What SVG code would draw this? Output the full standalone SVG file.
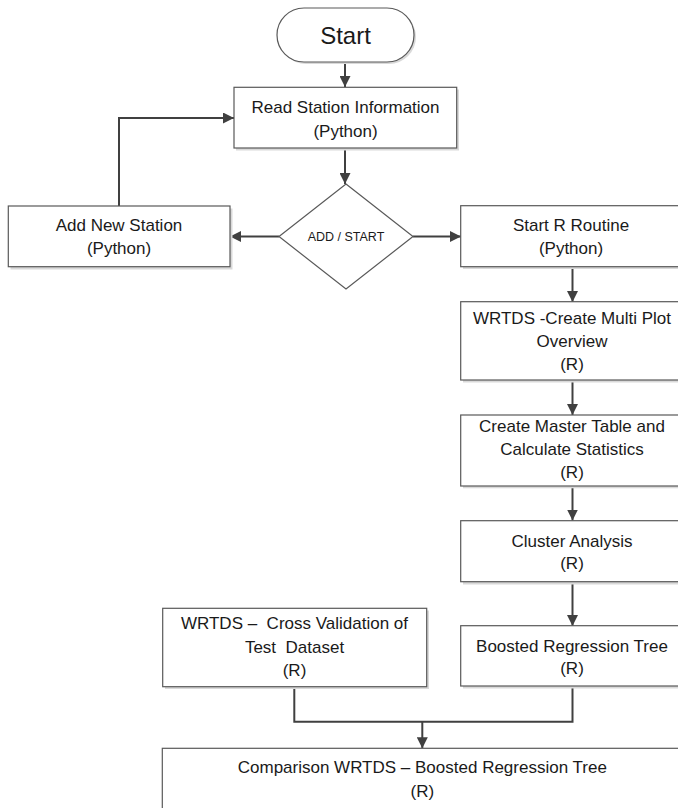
<svg xmlns="http://www.w3.org/2000/svg" width="678" height="808" viewBox="0 0 678 808">
<style>
.box{fill:#fff;stroke:#595959;stroke-width:1.2}
.sh{fill:#d9d9d9;stroke:none}
.t{font-family:"Liberation Sans",Arial,sans-serif;font-size:17px;fill:#1a1a1a;text-anchor:middle;white-space:pre}
.ts{font-family:"Liberation Sans",Arial,sans-serif;font-size:12.5px;fill:#1a1a1a;text-anchor:middle}
.tl{font-family:"Liberation Sans",Arial,sans-serif;font-size:24px;fill:#1a1a1a;text-anchor:middle}
.c{fill:none;stroke:#404040;stroke-width:2}
</style>
<defs>
<marker id="ah" viewBox="0 0 10 10" refX="10" refY="5" markerWidth="11" markerHeight="11" markerUnits="userSpaceOnUse" orient="auto">
<path d="M0,0 L10,5 L0,10 z" fill="#404040"/>
</marker>
</defs>
<rect width="678" height="808" fill="#fff"/>
<g id="connectors">
<path class="c" d="M345,62 V87" marker-end="url(#ah)"/>
<path class="c" d="M345,148 V184" marker-end="url(#ah)"/>
<path class="c" d="M279,236.5 H230" marker-end="url(#ah)"/>
<path class="c" d="M413,236.5 H461" marker-end="url(#ah)"/>
<path class="c" d="M119,206 V118 H234" marker-end="url(#ah)"/>
<path class="c" d="M572.5,267 V302" marker-end="url(#ah)"/>
<path class="c" d="M572.5,380 V415" marker-end="url(#ah)"/>
<path class="c" d="M572.5,486 V520.5" marker-end="url(#ah)"/>
<path class="c" d="M572.5,582 V626" marker-end="url(#ah)"/>
<path class="c" d="M294.3,687 V721.7 H572.5 V686"/>
<path class="c" d="M422.3,721.7 V748.3" marker-end="url(#ah)"/>
</g>
<g id="start">
<rect class="sh" x="279" y="10" width="137" height="54" rx="27"/>
<rect class="box" x="277" y="8" width="137" height="54" rx="27"/>
<text class="tl" x="345.5" y="43.5">Start</text>
</g>
<g id="read">
<rect class="sh" x="236" y="89.5" width="223" height="61"/>
<rect class="box" x="234" y="87.3" width="222.7" height="60.7"/>
<text class="t" x="345.5" y="113.3">Read Station Information</text>
<text class="t" x="345.5" y="136.5">(Python)</text>
</g>
<g id="decision">
<polygon class="box" points="346,184 413,236.5 346,289 279,236.5"/>
<text class="ts" x="346" y="241">ADD / START</text>
</g>
<g id="add">
<rect class="sh" x="10.5" y="208.5" width="222" height="61"/>
<rect class="box" x="8.3" y="206" width="221.7" height="60.7"/>
<text class="t" x="119" y="230.7">Add New Station</text>
<text class="t" x="119" y="253.5">(Python)</text>
</g>
<g id="startr">
<rect class="sh" x="463" y="208" width="230" height="61"/>
<rect class="box" x="460.7" y="205.7" width="222" height="61"/>
<text class="t" x="571" y="230.5">Start R Routine</text>
<text class="t" x="571" y="253.5">(Python)</text>
</g>
<g id="multiplot">
<rect class="sh" x="463" y="304" width="230" height="78.5"/>
<rect class="box" x="460.7" y="301.7" width="222" height="78.3"/>
<text class="t" x="572" y="324.3">WRTDS -Create Multi Plot</text>
<text class="t" x="572" y="347">Overview</text>
<text class="t" x="572" y="369.5">(R)</text>
</g>
<g id="master">
<rect class="sh" x="463" y="417.3" width="230" height="71"/>
<rect class="box" x="460.7" y="415" width="222" height="71"/>
<text class="t" x="572" y="431.7">Create Master Table and</text>
<text class="t" x="572" y="455">Calculate Statistics</text>
<text class="t" x="572" y="478">(R)</text>
</g>
<g id="cluster">
<rect class="sh" x="463" y="523" width="230" height="61.5"/>
<rect class="box" x="460.7" y="520.7" width="222" height="61"/>
<text class="t" x="572" y="546.7">Cluster Analysis</text>
<text class="t" x="572" y="569">(R)</text>
</g>
<g id="brt">
<rect class="sh" x="463" y="628" width="230" height="60.5"/>
<rect class="box" x="460.7" y="625.7" width="222" height="60.3"/>
<text class="t" x="572" y="651.7">Boosted Regression Tree</text>
<text class="t" x="572" y="674">(R)</text>
</g>
<g id="crossval">
<rect class="sh" x="165" y="610.5" width="264" height="78.5"/>
<rect class="box" x="162.7" y="608.3" width="264" height="78.4"/>
<text class="t" x="294.5" y="629" xml:space="preserve">WRTDS –  Cross Validation of</text>
<text class="t" x="294.5" y="653" xml:space="preserve">Test  Dataset</text>
<text class="t" x="294.5" y="676">(R)</text>
</g>
<g id="comparison">
<rect class="box" x="162.3" y="748.3" width="520" height="80"/>
<text class="t" x="422.3" y="773">Comparison WRTDS – Boosted Regression Tree</text>
<text class="t" x="422.3" y="797">(R)</text>
</g>
</svg>
